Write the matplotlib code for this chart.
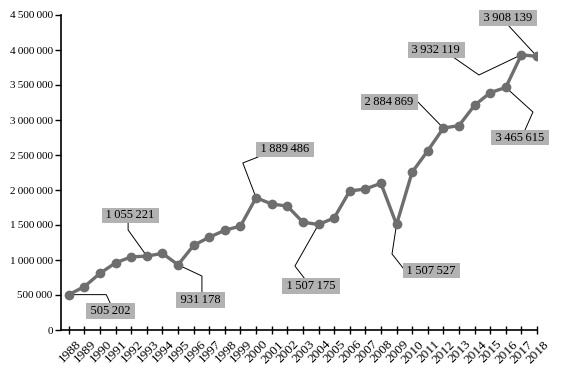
import matplotlib
matplotlib.use("Agg")
import matplotlib.pyplot as plt
import matplotlib.transforms as mtransforms
from matplotlib.ticker import FuncFormatter, MultipleLocator

years = list(range(1988, 2019))
values = [505202, 620000, 810000, 960000, 1045000, 1055221, 1095000, 931178,
          1210000, 1325000, 1425000, 1485000, 1889486, 1800000, 1770000, 1540000,
          1507175, 1600000, 1985000, 2015000, 2095000, 1507527, 2255000, 2560000,
          2884869, 2920000, 3210000, 3390000, 3465615, 3932119, 3908139]

# labelled points: year, box centre (year, value), leader bends (year, value)
labels = [
    (1988, (1990.69, 271000), [(1990.4, 505202), (1990.65, 385000)]),
    (1993, (1991.94, 1636000), [(1991.8, 1429000), (1991.8, 1529000)]),
    (1995, (1996.43, 429000), [(1996.53, 771000), (1996.53, 543000)]),
    (2000, (2001.85, 2579000), [(1999.15, 2386000), (2000.12, 2471000)]),
    (2004, (2003.51, 629000), [(2002.49, 914000), (2003.13, 729000)]),
    (2009, (2011.24, 850000), [(2008.71, 1086000), (2009.47, 871000)]),
    (2012, (2008.54, 3257000), [(2010.37, 3257000)]),
    (2017, (2011.53, 4000000), [(2014.28, 3643000), (2012.62, 3900000)]),
    (2018, (2016.14, 4457000), [(2016.14, 4357000)]),
    (2016, (2016.91, 2750000), [(2017.74, 3114000), (2017.23, 2857000)]),
]


def fmt(v):
    return f"{int(round(v)):,}".replace(",", "\u2009")


serif = ["Liberation Serif", "DejaVu Serif"]
plt.rcParams["font.family"] = serif

fig = plt.figure(figsize=(5.62, 3.74), dpi=100)
ax = fig.add_axes([61 / 562, 44 / 374, 476 / 562, 315 / 374])

ax.plot(years, values, color="#6e6e6e", lw=2.4, marker="o", ms=6, zorder=3)

for yr, (tx, ty), bends in labels:
    val = values[years.index(yr)]
    xs = [yr] + [b[0] for b in bends]
    ys = [val] + [b[1] for b in bends]
    ax.plot(xs, ys, color="black", lw=0.7, zorder=2)
    ax.text(tx, ty, "\u2009" + fmt(val) + "\u2009", ha="center", va="center",
            fontsize=9, color="black",
            bbox=dict(boxstyle="square,pad=0.15", fc="#b2b2b2", ec="none"), zorder=4)

ax.set_xlim(1987.5, 2018)
ax.set_ylim(0, 4500000)
ax.yaxis.set_major_locator(MultipleLocator(500000))
ax.yaxis.set_major_formatter(FuncFormatter(lambda v, p: fmt(v)))
ax.set_xticks(years)
ax.set_xticklabels([str(y) for y in years], rotation=45, ha="right",
                   rotation_mode="anchor")
ax.tick_params(axis="y", direction="out", length=4, width=1, labelsize=8, pad=2)
ax.tick_params(axis="x", direction="inout", length=6, width=1, labelsize=9.5, pad=3)

shift = mtransforms.ScaledTranslation(6 / 100, 0, fig.dpi_scale_trans)
for lbl in ax.get_xticklabels():
    lbl.set_transform(lbl.get_transform() + shift)

for s in ["top", "right"]:
    ax.spines[s].set_visible(False)
for s in ["left", "bottom"]:
    ax.spines[s].set_linewidth(1.2)
    ax.spines[s].set_color("black")

fig.savefig("out.png", dpi=100)
